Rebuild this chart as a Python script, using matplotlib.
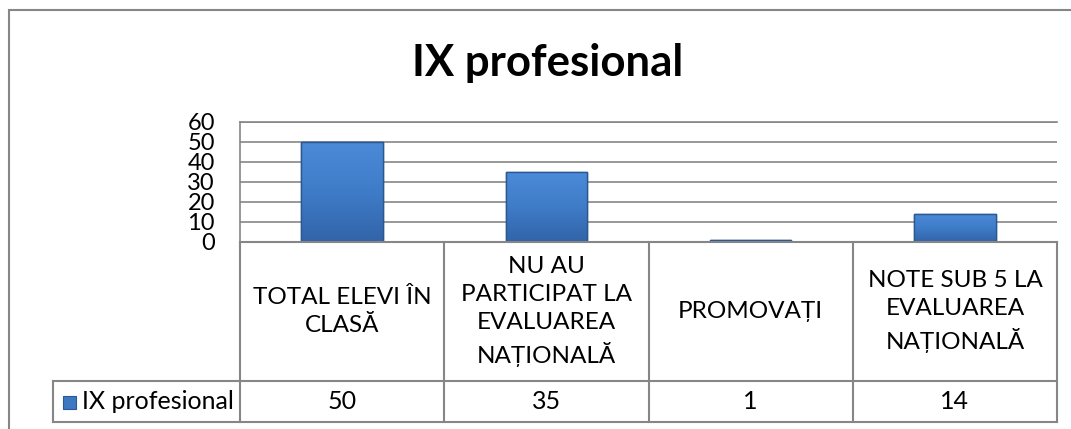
import matplotlib
matplotlib.use("Agg")
import matplotlib.pyplot as plt
import matplotlib.transforms as mtransforms
from matplotlib.patches import Rectangle
import numpy as np

categories = [
    "TOTAL ELEVI ÎN\nCLASĂ",
    "NU AU\nPARTICIPAT LA\nEVALUAREA\nNAȚIONALĂ",
    "PROMOVAȚI",
    "NOTE SUB 5 LA\nEVALUAREA\nNAȚIONALĂ",
]
values = [50, 35, 1, 14]
series_name = "IX profesional"
title = "IX profesional"
yticks = [0, 10, 20, 30, 40, 50, 60]

W, H = 1071, 429
GRID = "#868686"
FACE = "#3C78C4"
EDGE = "#2A5890"
FONT = ["Lato", "DejaVu Sans"]

plt.rcParams["font.family"] = FONT

fig = plt.figure(figsize=(W / 100, H / 100), dpi=100, facecolor="white")


def fx(x):
    return x / W


def fy(y):
    return 1 - y / H


# plot area (pixels): x 240..1057, y 122..242
ax = fig.add_axes([fx(240), fy(242), fx(1057) - fx(240), fy(122) - fy(242)])
x = np.arange(len(values))
bars = ax.bar(x, values, width=0.4, color=FACE, edgecolor=EDGE, linewidth=1.0, zorder=3)

# soft vertical gradient on each bar
grad = np.linspace(0, 1, 64).reshape(-1, 1)
cmap = matplotlib.colors.LinearSegmentedColormap.from_list("b", ["#3264A8", "#3F7CC8", "#4B8AD8"])
for b in bars:
    x0, y0 = b.get_x(), b.get_y()
    w, h = b.get_width(), b.get_height()
    im = ax.imshow(grad, extent=(x0, x0 + w, y0, y0 + h), aspect="auto", cmap=cmap,
                   origin="lower", zorder=3.5)
    im.set_clip_path(b)
    ax.add_patch(Rectangle((x0, y0), w, h, fill=False, edgecolor=EDGE, lw=1.0, zorder=4))

ax.set_xlim(-0.5, len(values) - 0.5)
ax.set_ylim(0, 60)
ax.set_yticks(yticks)
ax.set_xticks([])
ax.yaxis.grid(True, color=GRID, linewidth=1.2, zorder=0)
ax.set_axisbelow(True)
ax.tick_params(axis="y", length=0, pad=18, labelsize=17)
for s in ["right", "bottom"]:
    ax.spines[s].set_visible(False)
ax.spines["left"].set_color(GRID)
ax.spines["top"].set_color(GRID)
ax.spines["left"].set_linewidth(1.2)
ax.spines["top"].set_linewidth(1.2)

fig.text(fx(548), fy(63), title, ha="center", va="center", fontsize=31.5, fontweight="bold")

# data table under the plot
tr = mtransforms.blended_transform_factory(ax.transData, fig.transFigure)
y_top, y_mid, y_bot = fy(242), fy(381), fy(422)
lw = 1.5
edges = np.arange(len(values) + 1) - 0.5
for e in edges:
    fig.add_artist(plt.Line2D([e, e], [y_bot, y_top], transform=tr, color=GRID, lw=lw))
fig.add_artist(plt.Line2D([edges[0], edges[-1]], [y_top, y_top], transform=tr, color=GRID, lw=lw))
fig.add_artist(plt.Line2D([fx(53), fx(1057)], [y_mid, y_mid], color=GRID, lw=lw))
fig.add_artist(plt.Line2D([fx(53), fx(1057)], [y_bot, y_bot], color=GRID, lw=lw))
fig.add_artist(plt.Line2D([fx(53), fx(53)], [y_bot, y_mid], color=GRID, lw=lw))

for i, (cat, v) in enumerate(zip(categories, values)):
    fig.text(i, (y_top + y_mid) / 2, cat, transform=tr, ha="center", va="center",
             fontsize=17.5, linespacing=1.42, multialignment="center")
    fig.text(i, (y_mid + y_bot) / 2, str(v), transform=tr, ha="center", va="center", fontsize=18)

# legend key in the table
fig.add_artist(Rectangle((fx(63), fy(409)), fx(13), fy(396) - fy(409), facecolor=FACE,
                         edgecolor=EDGE, lw=0.8, transform=fig.transFigure))
fig.text(fx(82), (y_mid + y_bot) / 2, series_name, ha="left", va="center", fontsize=18)

# outer chart frame
fig.add_artist(Rectangle((fx(9), fy(460)), fx(1100), fy(10) - fy(460), fill=False,
                         edgecolor=GRID, lw=1.5, transform=fig.transFigure))

fig.savefig("out.png", dpi=100, facecolor="white")
